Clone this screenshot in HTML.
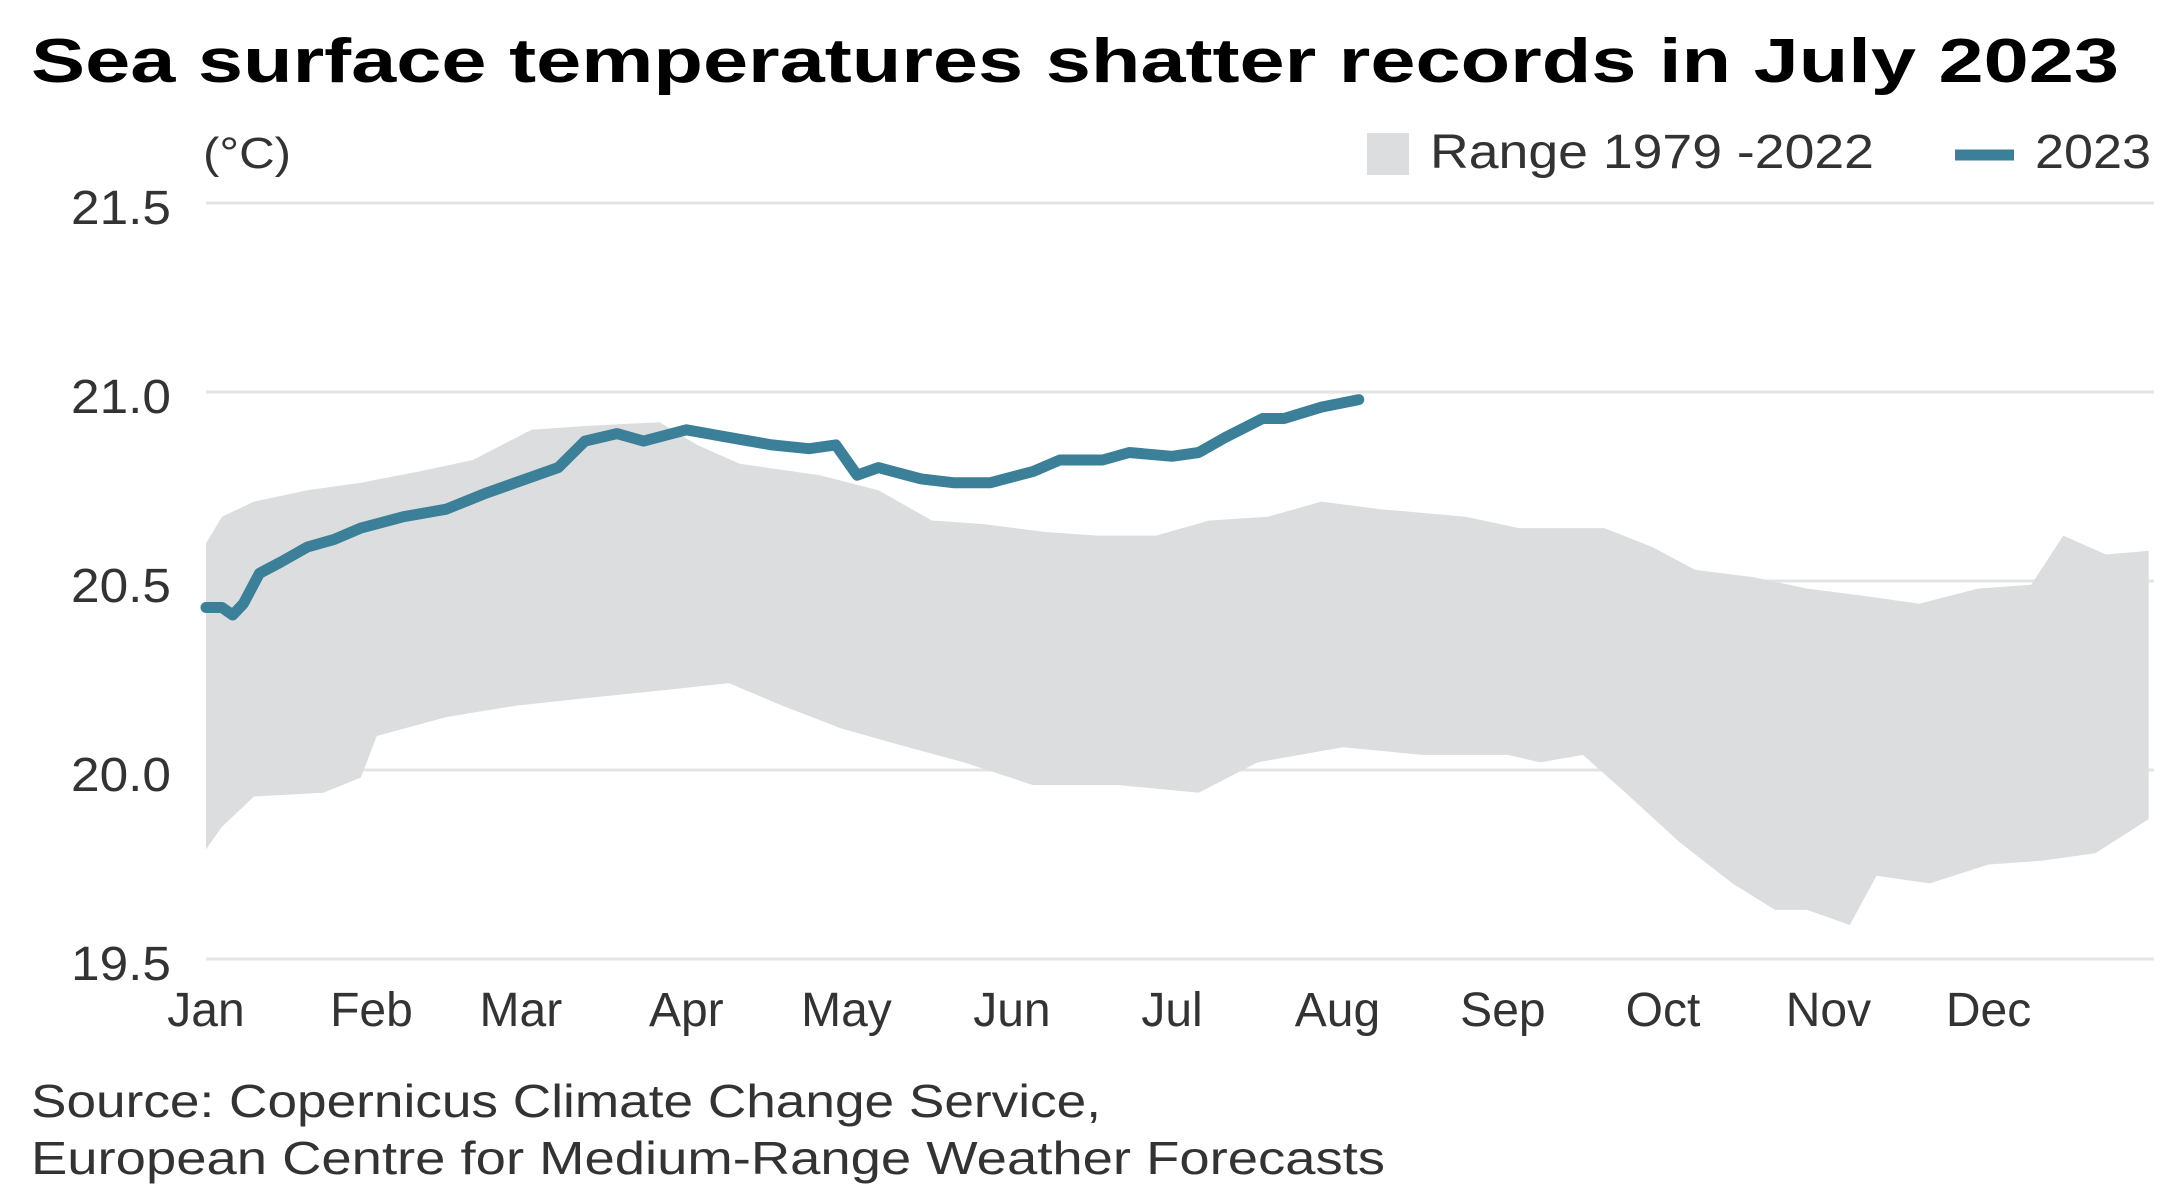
<!DOCTYPE html>
<html><head><meta charset="utf-8">
<style>
html,body{margin:0;padding:0;background:#fff;}
svg{display:block;font-family:"Liberation Sans",sans-serif;}
</style></head>
<body>
<svg id="chart" width="2182" height="1202" viewBox="0 0 2182 1202">
  <text x="31" y="82" font-size="62" font-weight="bold" fill="#000" textLength="2088" lengthAdjust="spacingAndGlyphs">Sea surface temperatures shatter records in July 2023</text>
  <text x="203" y="168" font-size="44" fill="#333" textLength="88" lengthAdjust="spacingAndGlyphs">(°C)</text>
  <g>
    <rect x="1367" y="133" width="42" height="42" fill="#dcdddf"/>
    <text x="1430" y="168" font-size="48" fill="#333" textLength="444" lengthAdjust="spacingAndGlyphs">Range 1979 -2022</text>
    <line x1="1955" y1="155" x2="2014" y2="155" stroke="#3b7f99" stroke-width="11"/>
    <text x="2035" y="168" font-size="48" fill="#333" textLength="116" lengthAdjust="spacingAndGlyphs">2023</text>
  </g>
  <g id="grid"></g>
  <g id="band"></g>
  <g id="line"></g>
  <g id="yticks"></g>
  <g id="xticks"></g>
  <text x="31" y="1117" font-size="46" fill="#333" textLength="1070" lengthAdjust="spacingAndGlyphs">Source: Copernicus Climate Change Service,</text>
  <text x="31" y="1174" font-size="46" fill="#333" textLength="1354" lengthAdjust="spacingAndGlyphs">European Centre for Medium-Range Weather Forecasts</text>
</svg>
<script>
const yTicks = [19.5, 20.0, 20.5, 21.0, 21.5];
const yTickLabels = ["19.5", "20.0", "20.5", "21.0", "21.5"];
const months = ["Jan","Feb","Mar","Apr","May","Jun","Jul","Aug","Sep","Oct","Nov","Dec"];
const monthStartDays = [0,31,59,90,120,151,181,212,243,273,304,334];
const lineDays = [0,3,5,7,10,14,19,24,29,37,45,52,58,66,71,77,82,90,98,106,113,118,122,126,134,140,147,155,160,168,173,181,186,191,198,202,209,216];
const lineVals = [20.43,20.43,20.41,20.44,20.52,20.55,20.59,20.61,20.64,20.67,20.69,20.73,20.76,20.80,20.87,20.89,20.87,20.90,20.88,20.86,20.85,20.86,20.78,20.80,20.77,20.76,20.76,20.79,20.82,20.82,20.84,20.83,20.84,20.88,20.93,20.93,20.96,20.98];
const bandUpperDays = [0,3,9,19,29,40,50,61,71,85,92,100,115,126,136,146,157,167,178,188,199,209,220,236,246,262,271,279,290,300,311,321,332,342,348,356,364];
const bandUpperVals = [20.60,20.67,20.71,20.74,20.76,20.79,20.82,20.90,20.91,20.92,20.86,20.81,20.78,20.74,20.66,20.65,20.63,20.62,20.62,20.66,20.67,20.71,20.69,20.67,20.64,20.64,20.59,20.53,20.51,20.48,20.46,20.44,20.48,20.49,20.62,20.57,20.58];
const bandLowerDays = [0,3,9,22,29,32,45,58,71,85,98,108,119,129,142,155,171,186,197,213,228,244,250,258,266,276,286,294,300,308,313,323,334,344,354,364];
const bandLowerVals = [19.79,19.85,19.93,19.94,19.98,20.09,20.14,20.17,20.19,20.21,20.23,20.17,20.11,20.07,20.02,19.96,19.96,19.94,20.02,20.06,20.04,20.04,20.02,20.04,19.94,19.81,19.70,19.63,19.63,19.59,19.72,19.70,19.75,19.76,19.78,19.87];

const X0 = 206, X1 = 2154, Y0 = 959, Y1 = 203;
const xScale = d => X0 + d * (X1 - X0) / 365;
const yScale = v => Y0 - (v - 19.5) * (Y0 - Y1) / 2.0;
const NS = "http://www.w3.org/2000/svg";
const mk = (tag, attrs) => { const e = document.createElementNS(NS, tag); for (const k in attrs) e.setAttribute(k, attrs[k]); return e; };

const grid = document.getElementById('grid');
const yt = document.getElementById('yticks');
yTicks.forEach((v, i) => {
  const l = mk('line', {x1: X0, x2: X1, y1: yScale(v), y2: yScale(v), stroke: '#e4e4e4', 'stroke-width': 3});
  
  
  grid.appendChild(l);
  const t = mk('text', {x: 171, y: yScale(v) + 21, 'font-size': 48, fill: '#333', 'text-anchor': 'end', textLength: 100, lengthAdjust: 'spacingAndGlyphs'});
  t.textContent = yTickLabels[i];
  
  
  yt.appendChild(t);
});

const xt = document.getElementById('xticks');
months.forEach((m, i) => {
  const t = mk('text', {x: xScale(monthStartDays[i]), y: 1026, 'font-size': 48, fill: '#333', 'text-anchor': 'middle'});
  t.textContent = m;
  
  
  xt.appendChild(t);
});

let d = '';
bandUpperDays.forEach((day, i) => { d += (i ? 'L' : 'M') + xScale(day).toFixed(1) + ',' + yScale(bandUpperVals[i]).toFixed(1); });
for (let i = bandLowerDays.length - 1; i >= 0; i--) d += 'L' + xScale(bandLowerDays[i]).toFixed(1) + ',' + yScale(bandLowerVals[i]).toFixed(1);
d += 'Z';
const band = mk('path', {d: d, fill: '#dcdddf'});


document.getElementById('band').appendChild(band);

const pts = lineDays.map((day, i) => xScale(day).toFixed(1) + ',' + yScale(lineVals[i]).toFixed(1)).join(' ');
const pl = mk('polyline', {points: pts, fill: 'none', stroke: '#3b7f99', 'stroke-width': 11, 'stroke-linejoin': 'round', 'stroke-linecap': 'round'});


document.getElementById('line').appendChild(pl);
</script>
</body></html>
